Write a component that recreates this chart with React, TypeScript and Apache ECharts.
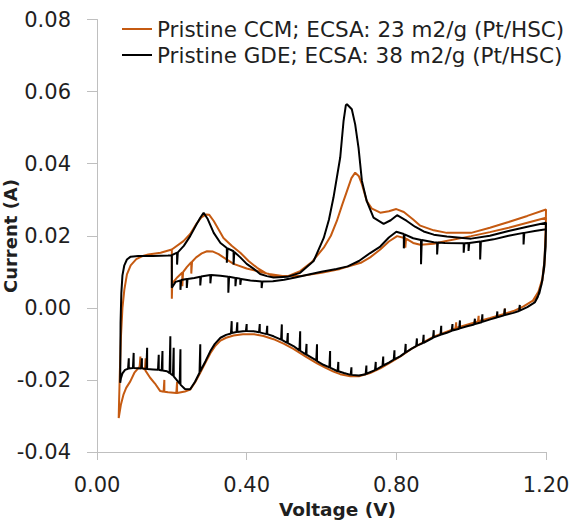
import React, { useEffect, useRef } from 'react';
import * as echarts from 'echarts';

type Pt = [number, number];

const seriesNames = [
  'Pristine CCM; ECSA: 23 m2/g (Pt/HSC)',
  'Pristine GDE; ECSA: 38 m2/g (Pt/HSC)',
];
const xAxisTitle = 'Voltage (V)';
const yAxisTitle = 'Current (A)';

// Voltage (V), Current (A)
const ccmFirstScan: Pt[] = [
  [0.2, 0.016], [0.2, 0.0025], [0.201, 0.0068], [0.215, 0.0085],
  [0.228, 0.0098], [0.228, 0.006], [0.23, 0.0099], [0.24, 0.0113],
  [0.252, 0.0127], [0.252, 0.0095], [0.254, 0.0128], [0.265, 0.014],
  [0.28, 0.0151], [0.294, 0.0157], [0.31, 0.0156], [0.325, 0.0149],
  [0.338, 0.014], [0.365, 0.0122], [0.4, 0.0109], [0.428, 0.0102],
  [0.46, 0.0094], [0.5, 0.0088], [0.543, 0.0088], [0.6, 0.0097],
  [0.65, 0.0108], [0.705, 0.0125], [0.73, 0.014], [0.757, 0.0162],
  [0.78, 0.0184], [0.802, 0.0199], [0.824, 0.0193], [0.824, 0.0167],
  [0.826, 0.0192], [0.845, 0.018], [0.864, 0.0175], [0.9, 0.0178],
  [0.93, 0.0185], [1.0, 0.0199], [1.05, 0.021], [1.1, 0.0222],
  [1.15, 0.0236], [1.2, 0.025],
];

const ccmCathodic: Pt[] = [
  [1.2, 0.025], [1.198, 0.019], [1.196, 0.013], [1.19, 0.008],
  [1.18, 0.0045], [1.165, 0.002], [1.14, 0.0004], [1.113, -0.0009],
  [1.09, -0.0016], [1.09, -0.0002], [1.088, -0.0017], [1.051, -0.0028],
  [1.02, -0.0037], [1.02, -0.0022], [1.018, -0.0038], [0.989, -0.0047],
  [0.96, -0.0056], [0.96, -0.004], [0.958, -0.0057], [0.935, -0.0066],
  [0.9, -0.008], [0.873, -0.0095], [0.84, -0.0114], [0.811, -0.0135],
  [0.78, -0.0154], [0.757, -0.0168], [0.73, -0.0181], [0.7, -0.019],
  [0.677, -0.019], [0.65, -0.0184], [0.632, -0.0177], [0.61, -0.0166],
  [0.588, -0.0154], [0.56, -0.0137], [0.525, -0.0114], [0.5, -0.01],
  [0.472, -0.0087], [0.445, -0.0078], [0.419, -0.0073], [0.39, -0.0073],
  [0.365, -0.0077], [0.345, -0.0083], [0.33, -0.0091], [0.315, -0.0107],
  [0.303, -0.0126], [0.29, -0.0152], [0.276, -0.018], [0.262, -0.0207],
  [0.249, -0.0227], [0.235, -0.0232], [0.214, -0.0236], [0.214, -0.0205],
  [0.212, -0.0236], [0.19, -0.0234], [0.18, -0.0233], [0.18, -0.02],
  [0.178, -0.0233], [0.169, -0.0231], [0.155, -0.021], [0.142, -0.0194],
  [0.13, -0.0175], [0.13, -0.014], [0.128, -0.0172], [0.116, -0.0162],
  [0.116, -0.0135], [0.114, -0.0163], [0.1, -0.018], [0.089, -0.0204],
  [0.078, -0.0222], [0.071, -0.024], [0.064, -0.0268], [0.058, -0.0306],
];

const ccmSecondScan: Pt[] = [
  [0.058, -0.0306], [0.059, -0.026], [0.061, -0.018], [0.064, -0.008],
  [0.068, 0.0], [0.073, 0.005], [0.08, 0.0093], [0.09, 0.0118],
  [0.105, 0.0135], [0.12, 0.0143], [0.137, 0.0148], [0.17, 0.0153],
  [0.2, 0.0162], [0.231, 0.0185], [0.249, 0.0205], [0.265, 0.0232],
  [0.28, 0.0252], [0.292, 0.0259], [0.3, 0.0258], [0.312, 0.0241],
  [0.338, 0.0194], [0.36, 0.0172], [0.383, 0.0153], [0.405, 0.013],
  [0.428, 0.0111], [0.45, 0.0097], [0.471, 0.0088], [0.51, 0.0088],
  [0.543, 0.0102], [0.575, 0.0128], [0.606, 0.0167], [0.625, 0.02],
  [0.641, 0.0241], [0.655, 0.0285], [0.668, 0.0324], [0.68, 0.036],
  [0.69, 0.0375], [0.7, 0.0365], [0.708, 0.0343], [0.721, 0.0296],
  [0.735, 0.0275], [0.757, 0.0264], [0.78, 0.0268], [0.8, 0.0274],
  [0.82, 0.0266], [0.845, 0.0245], [0.864, 0.0228], [0.9, 0.0215],
  [0.935, 0.0208], [1.0, 0.0208], [1.05, 0.0222], [1.1, 0.0238],
  [1.15, 0.0255], [1.2, 0.0273], [1.199, 0.019], [1.196, 0.012],
  [1.19, 0.0075], [1.18, 0.0042], [1.165, 0.0018],
];

const gdeFirstScan: Pt[] = [
  [0.2, 0.0144], [0.2, 0.0056], [0.21, 0.0072], [0.223, 0.0076],
  [0.223, 0.005], [0.225, 0.0077], [0.24, 0.008], [0.24, 0.0055],
  [0.242, 0.008], [0.26, 0.0083], [0.276, 0.0086], [0.276, 0.0062],
  [0.278, 0.0087], [0.303, 0.0091], [0.303, 0.0068], [0.305, 0.0091],
  [0.33, 0.0089], [0.351, 0.0086], [0.351, 0.0042], [0.353, 0.0086],
  [0.37, 0.0083], [0.37, 0.006], [0.372, 0.0083], [0.383, 0.0081],
  [0.383, 0.0064], [0.385, 0.008], [0.41, 0.0076], [0.44, 0.0073],
  [0.44, 0.0055], [0.442, 0.0073], [0.47, 0.0074], [0.5, 0.0078],
  [0.53, 0.0084], [0.56, 0.0091], [0.6, 0.01], [0.64, 0.0108],
  [0.67, 0.0115], [0.7, 0.013], [0.73, 0.0152], [0.757, 0.017],
  [0.78, 0.0195], [0.8, 0.0211], [0.82, 0.0205], [0.82, 0.0165],
  [0.822, 0.0204], [0.845, 0.0193], [0.866, 0.0188], [0.866, 0.0121],
  [0.868, 0.0188], [0.9, 0.0182], [0.909, 0.0181], [0.909, 0.0148],
  [0.911, 0.0181], [0.93, 0.018], [0.98, 0.0179], [0.98, 0.0153],
  [0.982, 0.0179], [0.993, 0.018], [0.993, 0.0158], [0.995, 0.018],
  [1.024, 0.0184], [1.024, 0.0134], [1.026, 0.0184], [1.06, 0.019],
  [1.1, 0.02], [1.14, 0.0208], [1.14, 0.0176], [1.142, 0.0208],
  [1.17, 0.0213], [1.2, 0.0218],
];

const gdeCathodic: Pt[] = [
  [1.2, 0.0218], [1.198, 0.017], [1.195, 0.012], [1.19, 0.0075],
  [1.182, 0.004], [1.17, 0.0015], [1.15, 0.0002], [1.13, -0.0008],
  [1.13, 0.0008], [1.128, -0.0009], [1.113, -0.0014], [1.09, -0.002],
  [1.09, -0.0002], [1.088, -0.0021], [1.07, -0.0026], [1.07, -0.001],
  [1.068, -0.0027], [1.051, -0.0032], [1.03, -0.0039], [1.03, -0.0018],
  [1.028, -0.004], [1.01, -0.0045], [1.01, -0.003], [1.008, -0.0046],
  [0.989, -0.0051], [0.97, -0.0057], [0.97, -0.0035], [0.968, -0.0058],
  [0.95, -0.0063], [0.95, -0.0045], [0.948, -0.0064], [0.935, -0.0069],
  [0.92, -0.0074], [0.92, -0.005], [0.918, -0.0075], [0.9, -0.0082],
  [0.9, -0.0062], [0.898, -0.0083], [0.873, -0.0097], [0.873, -0.0075],
  [0.871, -0.0098], [0.855, -0.0105], [0.855, -0.0085], [0.853, -0.0106],
  [0.84, -0.0114], [0.825, -0.0124], [0.825, -0.01], [0.823, -0.0125],
  [0.811, -0.0134], [0.795, -0.0143], [0.795, -0.0118], [0.793, -0.0144],
  [0.78, -0.0152], [0.765, -0.016], [0.765, -0.0135], [0.763, -0.0161],
  [0.745, -0.0172], [0.745, -0.015], [0.743, -0.0173], [0.72, -0.0183],
  [0.72, -0.016], [0.718, -0.0184], [0.7, -0.0188], [0.68, -0.0186],
  [0.68, -0.0165], [0.678, -0.0186], [0.66, -0.0181], [0.645, -0.0176],
  [0.645, -0.015], [0.643, -0.0176], [0.623, -0.0166], [0.623, -0.012],
  [0.621, -0.0165], [0.605, -0.0158], [0.588, -0.0148], [0.588, -0.0101],
  [0.586, -0.0146], [0.56, -0.013], [0.56, -0.01], [0.558, -0.0129],
  [0.543, -0.0119], [0.543, -0.0065], [0.541, -0.0118], [0.525, -0.0106],
  [0.51, -0.0098], [0.51, -0.007], [0.508, -0.0097], [0.494, -0.0089],
  [0.494, -0.0046], [0.492, -0.0088], [0.472, -0.0079], [0.455, -0.0073],
  [0.455, -0.005], [0.453, -0.0073], [0.435, -0.0068], [0.435, -0.0045],
  [0.433, -0.0068], [0.419, -0.0065], [0.4, -0.0064], [0.4, -0.0045],
  [0.398, -0.0064], [0.39, -0.0065], [0.375, -0.0067], [0.375, -0.004],
  [0.373, -0.0067], [0.36, -0.007], [0.36, -0.0037], [0.358, -0.0071],
  [0.345, -0.0075], [0.33, -0.0083], [0.315, -0.01], [0.303, -0.012],
  [0.29, -0.0148], [0.276, -0.0176], [0.276, -0.0101], [0.274, -0.018],
  [0.262, -0.0205], [0.249, -0.0226], [0.235, -0.0225], [0.223, -0.0213],
  [0.223, -0.0115], [0.221, -0.021], [0.205, -0.019], [0.205, -0.0111],
  [0.203, -0.0188], [0.196, -0.0182], [0.196, -0.0079], [0.194, -0.0181],
  [0.187, -0.0176], [0.175, -0.0174], [0.175, -0.012], [0.173, -0.0174],
  [0.165, -0.0172], [0.165, -0.013], [0.163, -0.0172], [0.15, -0.0171],
  [0.134, -0.017], [0.134, -0.0111], [0.132, -0.017], [0.12, -0.0168],
  [0.12, -0.014], [0.118, -0.0168], [0.098, -0.0167], [0.098, -0.0125],
  [0.096, -0.0167], [0.085, -0.0168], [0.085, -0.014], [0.083, -0.0169],
  [0.075, -0.0172], [0.068, -0.0182], [0.064, -0.0195], [0.062, -0.0208],
];

const gdeSecondScan: Pt[] = [
  [0.062, -0.0208], [0.0625, -0.012], [0.063, -0.004], [0.065, 0.004],
  [0.068, 0.009], [0.073, 0.0118], [0.08, 0.0134], [0.09, 0.0142],
  [0.11, 0.0144], [0.15, 0.0144], [0.19, 0.0145], [0.2, 0.0146],
  [0.214, 0.0153], [0.214, 0.012], [0.216, 0.0154], [0.232, 0.0172],
  [0.249, 0.0199], [0.265, 0.023], [0.276, 0.025], [0.285, 0.0264],
  [0.295, 0.0248], [0.312, 0.0208], [0.33, 0.018], [0.347, 0.0166],
  [0.347, 0.0125], [0.349, 0.0165], [0.365, 0.0157], [0.365, 0.012],
  [0.367, 0.0155], [0.383, 0.014], [0.4, 0.0122], [0.419, 0.0108],
  [0.436, 0.0094], [0.454, 0.0088], [0.472, 0.0084], [0.508, 0.0086],
  [0.543, 0.0097], [0.579, 0.013], [0.606, 0.0194], [0.62, 0.0245],
  [0.632, 0.0306], [0.65, 0.0417], [0.659, 0.0519], [0.665, 0.0562],
  [0.668, 0.0565], [0.681, 0.0551], [0.69, 0.0509], [0.699, 0.0444],
  [0.708, 0.0352], [0.721, 0.0296], [0.739, 0.025], [0.766, 0.0233],
  [0.785, 0.0243], [0.802, 0.0257], [0.828, 0.0241], [0.85, 0.0225],
  [0.873, 0.0212], [0.9, 0.0203], [0.935, 0.0198], [1.0, 0.0192],
  [1.05, 0.02], [1.1, 0.0213], [1.15, 0.0225], [1.2, 0.0236],
  [1.199, 0.017], [1.195, 0.011], [1.188, 0.0065], [1.178, 0.003],
  [1.17, 0.0015],
];

const ccmPath: Pt[] = [...ccmFirstScan, ...ccmCathodic, ...ccmSecondScan];
const gdePath: Pt[] = [...gdeFirstScan, ...gdeCathodic, ...gdeSecondScan];

const FONT = 'DejaVu Sans';
const TEXT = '#1f1f1f';
const AXIS = '#bfbfbf';

export default function App() {
  const ref = useRef<HTMLDivElement>(null);

  useEffect(() => {
    document.body.style.margin = '0';
    if (!ref.current) return;
    const chart = echarts.init(ref.current, null, { renderer: 'svg' });
    chart.setOption({
      animation: false,
      grid: {
        left: 97,
        right: 30,
        top: 19.5,
        bottom: 69,
        containLabel: false,
        outerBoundsMode: 'none',
      },
      legend: {
        data: seriesNames,
        orient: 'vertical',
        left: 117,
        top: 13,
        icon: 'rect',
        itemWidth: 30,
        itemHeight: 2,
        itemGap: 4,
        textStyle: { fontFamily: FONT, fontSize: 21.5, color: TEXT },
      },
      graphic: [
        {
          type: 'text',
          x: 10,
          y: 236,
          rotation: Math.PI / 2,
          silent: true,
          style: {
            text: yAxisTitle,
            fontFamily: FONT,
            fontWeight: 'bold',
            fontSize: 18,
            fill: TEXT,
            align: 'center',
            verticalAlign: 'middle',
          },
        },
      ],
      xAxis: {
        type: 'value',
        min: 0,
        max: 1.2,
        interval: 0.4,
        name: xAxisTitle,
        nameLocation: 'middle',
        nameGap: 44,
        nameTextStyle: {
          fontFamily: FONT,
          fontWeight: 'bold',
          fontSize: 18.5,
          color: TEXT,
          padding: [0, 0, 0, 32],
        },
        axisLine: { onZero: false, lineStyle: { color: AXIS, width: 1 } },
        axisTick: { show: true, inside: false, length: 8, lineStyle: { color: AXIS } },
        axisLabel: {
          margin: 22,
          fontFamily: FONT,
          fontSize: 21,
          color: TEXT,
          formatter: (v: number) => v.toFixed(2),
        },
        splitLine: { show: false },
      },
      yAxis: {
        type: 'value',
        min: -0.04,
        max: 0.08,
        interval: 0.02,
        axisLine: { show: true, onZero: false, lineStyle: { color: AXIS, width: 1 } },
        axisTick: { show: true, inside: false, length: 10, lineStyle: { color: AXIS } },
        axisLabel: {
          margin: 26,
          fontFamily: FONT,
          fontSize: 21,
          color: TEXT,
          formatter: (v: number) => v.toFixed(2),
        },
        splitLine: { show: false },
      },
      series: [
        {
          name: seriesNames[0],
          type: 'line',
          data: ccmPath,
          symbol: 'none',
          z: 2,
          lineStyle: { color: '#C55A11', width: 2 },
          itemStyle: { color: '#C55A11' },
        },
        {
          name: seriesNames[1],
          type: 'line',
          data: gdePath,
          symbol: 'none',
          z: 3,
          lineStyle: { color: '#000000', width: 2 },
          itemStyle: { color: '#000000' },
        },
      ],
    });
    return () => chart.dispose();
  }, []);

  return <div ref={ref} style={{ width: 576, height: 521 }} />;
}
